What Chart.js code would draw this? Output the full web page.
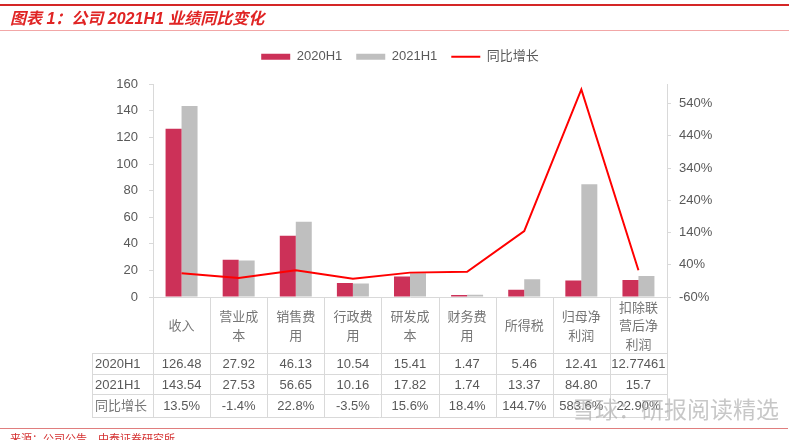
<!DOCTYPE html>
<html>
<head>
<meta charset="utf-8">
<script src="https://cdn.jsdelivr.net/npm/chart.js@4/dist/chart.umd.min.js"></script>
<style>
  html, body { margin: 0; padding: 0; background: #fff; }
  #wrap { width: 800px; height: 440px; position: relative; }
</style>
</head>
<body>
<div id="wrap"><canvas id="chart" width="800" height="440"></canvas></div>
<script>
// Data
const categories = [['收入'], ['营业成', '本'], ['销售费', '用'], ['行政费', '用'], ['研发成', '本'],
                    ['财务费', '用'], ['所得税'], ['归母净', '利润'], ['扣除联', '营后净', '利润']];
const h1_2020 = [126.48, 27.92, 46.13, 10.54, 15.41, 1.47, 5.46, 12.41, 12.77461];
const h1_2021 = [143.54, 27.53, 56.65, 10.16, 17.82, 1.74, 13.37, 84.80, 15.7];
const yoyGrowth = [13.5, -1.4, 22.8, -3.5, 15.6, 18.4, 144.7, 583.6, 22.9];

// Table text as printed under the chart
const rowNames = ['2020H1', '2021H1', '同比增长'];
const row2020Text = ['126.48', '27.92', '46.13', '10.54', '15.41', '1.47', '5.46', '12.41', '12.77461'];
const row2021Text = ['143.54', '27.53', '56.65', '10.16', '17.82', '1.74', '13.37', '84.80', '15.7'];
const rowYoyText = ['13.5%', '-1.4%', '22.8%', '-3.5%', '15.6%', '18.4%', '144.7%', '583.6%', '22.90%'];

const leftTicks = [0, 20, 40, 60, 80, 100, 120, 140, 160];
const rightTicks = [-60, 40, 140, 240, 340, 440, 540];

const titleText = '图表 1：公司 2021H1 业绩同比变化';
const sourceText = '来源：公司公告，中泰证券研究所';
const watermarkText = '雪球：研报阅读精选';

// Colours
const RED_BAR = '#CC3158';
const GREY_BAR = '#BFBFBF';
const LINE_RED = '#FF0000';
const TEXT = '#595959';
const CJK_TEXT = '#767676';
const RULE = '#D9D9D9';
const FONT = "'Liberation Sans', 'Noto Sans CJK SC', sans-serif";

// Title rules, table under the x axis, footer
const decorPlugin = {
    id: 'decor',
    beforeDraw(chart) {
        const ctx = chart.ctx;
        ctx.save();
        ctx.fillStyle = '#fff';
        ctx.fillRect(0, 0, chart.width, chart.height);
        ctx.fillStyle = '#D42626';
        ctx.fillRect(0, 4, 789, 2);
        ctx.fillStyle = '#F2A7A7';
        ctx.fillRect(0, 30, 789, 1);
        ctx.restore();
    },
    afterDraw(chart) {
        const ctx = chart.ctx;
        const x = chart.scales.x;
        const area = chart.chartArea;
        const colW = (area.right - area.left) / categories.length;
        const rowLines = [353, 374, 394, 417];
        const tableLeft = 92;

        ctx.save();
        ctx.strokeStyle = RULE;
        ctx.lineWidth = 1;
        ctx.beginPath();
        // column separators
        for (let i = 0; i <= categories.length; i++) {
            const bx = Math.round(area.left + i * colW) + 0.5;
            ctx.moveTo(bx, area.bottom);
            ctx.lineTo(bx, rowLines[3]);
        }
        ctx.moveTo(tableLeft + 0.5, rowLines[0]);
        ctx.lineTo(tableLeft + 0.5, rowLines[3]);
        rowLines.forEach(y => {
            ctx.moveTo(tableLeft, y + 0.5);
            ctx.lineTo(area.right, y + 0.5);
        });
        ctx.stroke();

        const rows = [row2020Text, row2021Text, rowYoyText];
        ctx.textBaseline = 'middle';
        rows.forEach((row, r) => {
            const cy = (rowLines[r] + rowLines[r + 1]) / 2 + 1;
            ctx.font = '13px ' + FONT;
            ctx.fillStyle = r === 2 ? CJK_TEXT : TEXT;
            ctx.textAlign = 'left';
            ctx.fillText(rowNames[r], tableLeft + 3, cy);
            ctx.fillStyle = TEXT;
            ctx.textAlign = 'center';
            row.forEach((t, i) => ctx.fillText(t, x.getPixelForValue(i), cy));
        });

        // watermark and footer
        ctx.font = '23px ' + FONT;
        ctx.fillStyle = 'rgba(175,175,175,0.7)';
        ctx.textAlign = 'left';
        ctx.fillText(watermarkText, 572, 412);
        ctx.fillStyle = '#E07E7E';
        ctx.fillRect(0, 428, 788, 1);
        ctx.font = '11px ' + FONT;
        ctx.fillStyle = '#D43030';
        ctx.textBaseline = 'top';
        ctx.fillText(sourceText, 10, 434);
        ctx.restore();
    }
};

const ctx = document.getElementById('chart').getContext('2d');
const chart = new Chart(ctx, {
    type: 'bar',
    data: {
        labels: categories,
        datasets: [
            { label: '2020H1', data: h1_2020, backgroundColor: RED_BAR, yAxisID: 'y', order: 1 },
            { label: '2021H1', data: h1_2021, backgroundColor: GREY_BAR, yAxisID: 'y', order: 1 },
            {
                type: 'line', label: '同比增长', data: yoyGrowth, yAxisID: 'y1', order: 0,
                borderColor: LINE_RED, backgroundColor: LINE_RED, borderWidth: 2,
                pointRadius: 0, tension: 0, fill: false
            }
        ]
    },
    options: {
        responsive: false,
        animation: false,
        devicePixelRatio: 1,
        layout: { padding: { left: 10, right: 10, top: 0, bottom: 87 } },
        datasets: { bar: { categoryPercentage: 0.56, barPercentage: 1 } },
        plugins: {
            tooltip: { enabled: false },
            title: {
                display: true,
                text: titleText,
                align: 'start',
                color: '#E02424',
                font: { family: FONT, size: 16, style: 'italic', weight: 'bold', lineHeight: 1.2 },
                padding: { top: 10, bottom: 7 }
            },
            legend: {
                position: 'top',
                labels: {
                    usePointStyle: true,
                    pointStyleWidth: 29,
                    boxHeight: 6,
                    padding: 14,
                    color: TEXT,
                    font: { family: FONT, size: 13 },
                    sort: (a, b) => a.datasetIndex - b.datasetIndex,
                    generateLabels(chart) {
                        const items = Chart.defaults.plugins.legend.labels.generateLabels(chart);
                        items.forEach(it => {
                            if (chart.data.datasets[it.datasetIndex].type === 'line') {
                                it.pointStyle = 'line';
                                it.lineWidth = 2;
                                it.strokeStyle = LINE_RED;
                            } else {
                                it.pointStyle = 'rect';
                                it.lineWidth = 0;
                            }
                        });
                        return items;
                    }
                }
            }
        },
        scales: {
            x: {
                grid: { display: false },
                border: { display: true, color: RULE },
                ticks: {
                    color: CJK_TEXT,
                    crossAlign: 'center',
                    padding: 3,
                    autoSkip: false,
                    maxRotation: 0,
                    font: { family: FONT, size: 13, lineHeight: 1.45 }
                },
                afterFit: s => { s.height = 56; }
            },
            // empty spacer between legend and plot
            gap: {
                type: 'category',
                position: 'top',
                grid: { display: false },
                border: { display: false },
                ticks: { display: false },
                afterFit: s => { s.height = 11; }
            },
            y: {
                position: 'left',
                min: 0,
                max: 160,
                grid: { drawOnChartArea: false, drawTicks: true, tickLength: 4, color: RULE },
                border: { display: true, color: RULE },
                ticks: { stepSize: 20, padding: 11, color: TEXT, font: { family: FONT, size: 13 } },
                afterBuildTicks: s => { s.ticks = leftTicks.map(v => ({ value: v })); },
                afterFit: s => { s.width = 143; }
            },
            y1: {
                position: 'right',
                min: -60,
                max: 600,
                grid: { drawOnChartArea: false, drawTicks: true, tickLength: 4, color: RULE },
                border: { display: true, color: RULE },
                ticks: { padding: 8, color: TEXT, font: { family: FONT, size: 13 }, callback: v => v + '%' },
                afterBuildTicks: s => { s.ticks = rightTicks.map(v => ({ value: v })); },
                afterFit: s => { s.width = 123; }
            }
        }
    },
    plugins: [decorPlugin]
});
</script>
</body>
</html>
